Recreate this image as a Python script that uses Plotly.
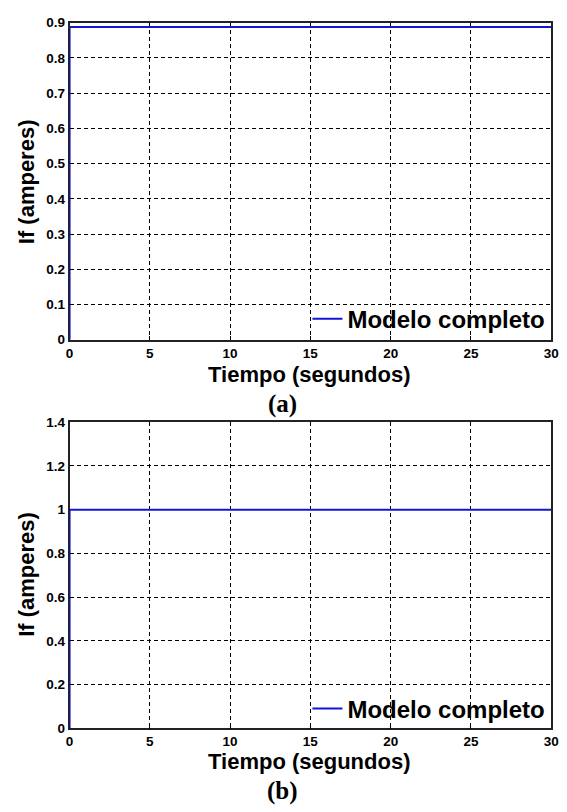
import plotly.graph_objects as go

# Data
t = [0, 0, 30]
if_a = [0, 0.888, 0.888]
if_b = [0, 1.0, 1.0]
x_ticks = [0, 5, 10, 15, 20, 25, 30]
y_ticks_a = [0, 0.1, 0.2, 0.3, 0.4, 0.5, 0.6, 0.7, 0.8, 0.9]
y_ticks_b = [0, 0.2, 0.4, 0.6, 0.8, 1, 1.2, 1.4]
series_name = "Modelo completo"

W, H = 567, 812
FONT = "Liberation Sans, Arial, sans-serif"
BLUE = "#1414d8"

fig = go.Figure()
fig.add_trace(go.Scatter(x=t, y=if_a, mode="lines", name=series_name, showlegend=True,
                         line=dict(color=BLUE, width=2), xaxis="x", yaxis="y",
                         legend="legend", legendgroup="a"))
fig.add_trace(go.Scatter(x=t, y=if_b, mode="lines", name=series_name, showlegend=True,
                         line=dict(color=BLUE, width=2), xaxis="x2", yaxis="y2",
                         legend="legend2", legendgroup="b"))

x0, x1 = 67 / W, 559 / W
dom_a = [1 - 339 / H, 1 - 16 / H]
dom_b = [1 - 735 / H, 1 - 423 / H]

axis_common = dict(showline=True, mirror=True, linecolor="#222222", linewidth=1.5,
                   showgrid=True, gridcolor="black", gridwidth=1, griddash="4px,3px",
                   zeroline=False, ticks="inside", ticklen=4, tickcolor="black",
                   layer="below traces",
                   tickfont=dict(family=FONT, size=13.5, color="black", weight="bold"))

leg_font = dict(family=FONT, size=24, color="black", weight="bold")
fig.update_layout(
    width=W, height=H, margin=dict(l=0, r=0, t=0, b=0),
    paper_bgcolor="white", plot_bgcolor="white", showlegend=True,
    xaxis=dict(domain=[x0, x1], range=[0, 30], tickvals=x_ticks, anchor="y", **axis_common),
    yaxis=dict(domain=dom_a, range=[0, 0.9], tickvals=y_ticks_a, anchor="x", **axis_common),
    xaxis2=dict(domain=[x0, x1], range=[0, 30], tickvals=x_ticks, anchor="y2", **axis_common),
    yaxis2=dict(domain=dom_b, range=[0, 1.4], tickvals=y_ticks_b, anchor="x2", **axis_common),
    legend=dict(x=310 / W, y=1 - 318 / H, xanchor="left", yanchor="middle",
                bgcolor="rgba(0,0,0,0)", borderwidth=0, font=leg_font),
    legend2=dict(x=310 / W, y=1 - 715 / H, xanchor="left", yanchor="middle",
                 bgcolor="rgba(0,0,0,0)", borderwidth=0, font=leg_font),
)

title_font = dict(family=FONT, size=22, color="black", weight="bold")
cap_font = dict(family="Liberation Serif, Times New Roman, serif", size=25, color="black", weight="bold")
ann = [
    dict(text="If (amperes)", x=23 / W, y=1 - 178 / H, textangle=-90, font=title_font),
    dict(text="Tiempo (segundos)", x=312 / W, y=1 - 374 / H, font=title_font),
    dict(text="If (amperes)", x=23 / W, y=1 - 578 / H, textangle=-90, font=title_font),
    dict(text="Tiempo (segundos)", x=312 / W, y=1 - 769 / H, font=title_font),
    dict(text="(a)", x=285 / W, y=1 - 404 / H, font=cap_font),
    dict(text="(b)", x=285 / W, y=1 - 799 / H, font=cap_font),
]
for a in ann:
    fig.add_annotation(xref="paper", yref="paper", showarrow=False,
                       xanchor="center", yanchor="middle", **a)

fig.write_html("out.html")
